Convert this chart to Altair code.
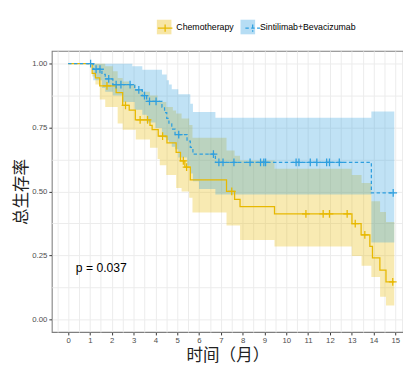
import altair as alt
import pandas as pd
import numpy as np

groups = ["Chemotherapy", "Sintilimab+Bevacizumab"]
colors = ["#E7B800", "#2E9FDF"]

# Kaplan-Meier curves (step-after)
chemo_t = [0, 1.1, 1.25, 1.45, 2.2, 2.5, 2.8, 3.08, 3.75, 3.85, 4.13, 4.53, 4.95, 5.15, 5.35, 5.6,
           7.26, 7.63, 7.88, 9.46, 13.01, 13.43, 13.83, 13.95, 14.29, 14.57, 14.95]
chemo_s = [1.0, 0.962, 0.944, 0.913, 0.887, 0.837, 0.818, 0.78, 0.758, 0.742, 0.716, 0.69, 0.653, 0.62, 0.595, 0.545,
           0.5, 0.469, 0.441, 0.412, 0.374, 0.33, 0.285, 0.24, 0.192, 0.146, 0.146]
sinti_t = [0, 1.15, 1.55, 1.7, 2.05, 3.05, 3.4, 3.6, 4.3, 4.42, 4.52, 4.62, 4.75, 4.9, 5.45, 5.6, 5.72,
           6.75, 13.9, 14.95]
sinti_s = [1.0, 0.978, 0.958, 0.94, 0.918, 0.897, 0.875, 0.852, 0.83, 0.808, 0.786, 0.764, 0.744, 0.722, 0.697, 0.672, 0.646,
           0.614, 0.494, 0.494]

# censor times
chemo_cens = [1.78, 2.63, 3.3, 3.64, 4.33, 5.28, 5.43, 7.5, 10.9, 11.69, 11.98, 12.79, 13.16, 13.6, 14.88]
sinti_cens = [1.03, 1.28, 1.46, 1.86, 2.2, 2.42, 2.84, 3.24, 3.5, 3.73, 4.03, 5.07, 6.66, 6.91, 7.1, 7.6,
              8.34, 8.82, 8.97, 9.05, 10.45, 10.58, 11.1, 11.4, 11.85, 11.98, 12.43, 14.9]

# confidence bands (step-after)
chemo_ci_t = [0, 1.1, 1.25, 1.45, 1.7, 2.05, 2.27, 2.5, 2.8, 3.1, 3.4, 3.75, 4.1, 4.2, 4.5, 4.8, 4.95, 5.2, 5.55, 5.7,
              7.26, 7.63, 7.88, 9.46, 13.0, 13.45, 13.9, 14.3, 14.57, 14.95]
chemo_hi = [1.0, 1.0, 1.0, 1.0, 0.99, 0.97, 0.944, 0.93, 0.918, 0.9, 0.89, 0.875, 0.855, 0.85, 0.83, 0.817, 0.805, 0.785, 0.76, 0.71,
            0.66, 0.64, 0.621, 0.589, 0.564, 0.533, 0.462, 0.42, 0.38, 0.38]
chemo_lo = [1.0, 0.95, 0.918, 0.86, 0.83, 0.83, 0.766, 0.741, 0.741, 0.703, 0.703, 0.671, 0.627, 0.602, 0.564, 0.564, 0.513, 0.5, 0.475, 0.418,
            0.367, 0.367, 0.31, 0.285, 0.247, 0.209, 0.165, 0.088, 0.054, 0.054]
sinti_ci_t = [0, 1.15, 1.55, 1.7, 2.05, 2.5, 2.94, 3.05, 3.4, 3.6, 4.0, 4.3, 4.42, 4.52, 4.62, 4.75, 4.9, 5.05, 5.45,
              5.6, 5.72, 6.0, 6.75, 13.9, 14.95]
sinti_hi = [1.0, 1.0, 1.0, 1.0, 1.0, 1.0, 0.99, 0.99, 0.976, 0.976, 0.976, 0.957, 0.957, 0.935, 0.918, 0.9, 0.9, 0.88, 0.88,
            0.843, 0.811, 0.811, 0.788, 0.813, 0.813]
sinti_lo = [1.0, 0.935, 0.905, 0.89, 0.875, 0.85, 0.85, 0.82, 0.8, 0.77, 0.748, 0.72, 0.71, 0.7, 0.69, 0.675, 0.665, 0.633, 0.6,
            0.57, 0.54, 0.51, 0.488, 0.30, 0.30]

p_label = ["p = 0.037"]
p_x = [0.35]
p_y = [0.2]


def step_lookup(ts, ss, t):
    i = np.searchsorted(ts, t, side="right") - 1
    return ss[i]


curve = pd.concat([
    pd.DataFrame({"t": chemo_t, "s": chemo_s, "arm": groups[0]}),
    pd.DataFrame({"t": sinti_t, "s": sinti_s, "arm": groups[1]}),
])
cens = pd.concat([
    pd.DataFrame({"t": chemo_cens, "s": [step_lookup(chemo_t, chemo_s, c) for c in chemo_cens], "arm": groups[0]}),
    pd.DataFrame({"t": sinti_cens, "s": [step_lookup(sinti_t, sinti_s, c) for c in sinti_cens], "arm": groups[1]}),
])
band = pd.concat([
    pd.DataFrame({"t": chemo_ci_t, "lo": chemo_lo, "hi": chemo_hi, "group": groups[0]}),
    pd.DataFrame({"t": sinti_ci_t, "lo": sinti_lo, "hi": sinti_hi, "group": groups[1]}),
])
ptext = pd.DataFrame({"label": p_label, "x": p_x, "y": p_y})

x_grid = list(np.arange(-0.5, 15.01, 0.5))
y_grid = list(np.arange(0, 1.001, 0.125))

xscale = alt.Scale(domain=[-0.75, 15.35], nice=False, zero=False)
yscale = alt.Scale(domain=[-0.05, 1.05], nice=False, zero=False)

xaxis = alt.Axis(
    values=x_grid, grid=True, gridColor="#EBEBEB", gridWidth=1, domain=False,
    labelExpr="datum.value % 1 === 0 ? format(datum.value, 'd') : ''",
    tickColor={"condition": {"test": "datum.value % 1 === 0", "value": "#333333"}, "value": "transparent"},
    tickSize=3, labelFontSize=8, labelColor="#4D4D4D", labelFont="Liberation Sans", labelPadding=2,
    title="时间（月）", titleFont="Noto Sans CJK SC", titleFontSize=17, titleFontWeight="normal",
    titleColor="#222222", titlePadding=3,
)
yaxis = alt.Axis(
    values=y_grid, grid=True, gridColor="#EBEBEB", gridWidth=1, domain=False,
    labelExpr="abs((datum.value*4) % 1) < 0.001 ? format(datum.value, '.2f') : ''",
    tickColor={"condition": {"test": "abs((datum.value*4) % 1) < 0.001", "value": "#333333"}, "value": "transparent"},
    tickSize=3, labelFontSize=8, labelColor="#4D4D4D", labelFont="Liberation Sans", labelPadding=2,
    title="总生存率", titleFont="Noto Sans CJK SC", titleFontSize=17, titleFontWeight="normal",
    titleColor="#222222", titlePadding=1,
)

leg_common = dict(orient="none", legendX=108, legendY=-32, direction="horizontal", title=None,
                  symbolSize=225, labelFontSize=9, labelFont="Liberation Sans", labelColor="black",
                  labelOffset=5, columnPadding=6)

fill_leg = alt.Legend(symbolType="square", symbolOpacity=0.35, symbolStrokeWidth=0, **leg_common)
stroke_leg = alt.Legend(symbolType="M-1,0H1M0,-0.5V0.5", symbolStrokeWidth=1.3, labelOpacity=0,
                        symbolFillColor="transparent", **leg_common)

# fill scale takes its domain from the data (keeps its legend separate from the stroke legend)
area = alt.Chart(band).mark_area(interpolate="step-after", opacity=0.3).encode(
    x=alt.X("t:Q", scale=xscale, axis=xaxis),
    y=alt.Y("lo:Q", scale=yscale, axis=yaxis),
    y2="hi:Q",
    fill=alt.Fill("group:N", scale=alt.Scale(range=colors), legend=fill_leg),
)

line = alt.Chart(curve).mark_line(interpolate="step-after", strokeWidth=1.3).encode(
    x=alt.X("t:Q", scale=xscale, axis=xaxis),
    y=alt.Y("s:Q", scale=yscale, axis=yaxis),
    stroke=alt.Stroke("arm:N", scale=alt.Scale(domain=groups, range=colors), legend=stroke_leg),
    strokeDash=alt.StrokeDash("arm:N", scale=alt.Scale(domain=groups, range=[[1, 0], [3.5, 2.5]]), legend=None),
)

pts = alt.Chart(cens).mark_point(shape="M-1,0H1M0,-1V1", filled=False, size=64, strokeWidth=1.3, opacity=1).encode(
    x=alt.X("t:Q", scale=xscale, axis=xaxis),
    y=alt.Y("s:Q", scale=yscale, axis=yaxis),
    stroke=alt.Stroke("arm:N", scale=alt.Scale(domain=groups, range=colors), legend=stroke_leg),
)

txt = alt.Chart(ptext).mark_text(align="left", baseline="middle", fontSize=12.5, font="Liberation Sans",
                                 color="black").encode(
    x=alt.X("x:Q", scale=xscale, axis=xaxis),
    y=alt.Y("y:Q", scale=yscale, axis=yaxis),
    text="label:N",
)

chart = alt.layer(area, line, pts, txt).properties(
    width=361, height=289,
    autosize="none",
    padding={"left": 45, "top": 39, "right": 0, "bottom": 34},
    background="white",
).configure_view(stroke="#7F7F7F", strokeWidth=1.1)

chart.save("out.html", embed_options={"renderer": "svg", "actions": False})
